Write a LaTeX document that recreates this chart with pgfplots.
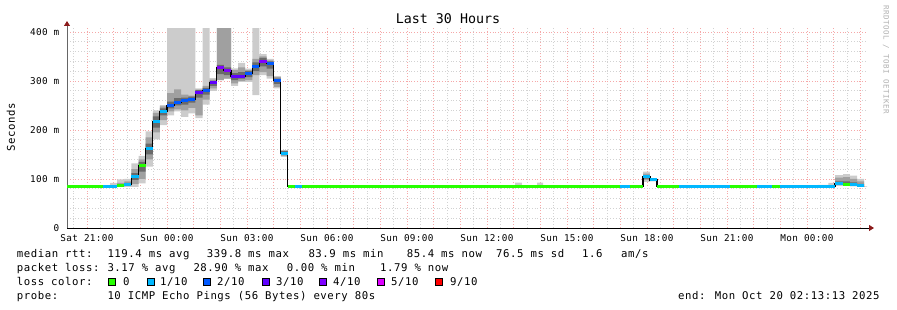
\documentclass[border=0pt]{standalone}
\usepackage{fontspec}
\setmainfont{DejaVu Sans Mono}
\newfontfamily\lgfont{DejaVu Sans Mono}[LetterSpace=5.2]
\newfontfamily\tkfont{DejaVu Sans Mono}[LetterSpace=4]
\newfontfamily\wmfont{DejaVu Sans Mono}[LetterSpace=7]
\usepackage{pgfplots}
\pgfplotsset{compat=1.18}
\usepackage{pgfplotstable}
\usepgfplotslibrary{fillbetween}
\usetikzlibrary{arrows.meta}

\definecolor{c0}{HTML}{26FF00}
\definecolor{c1}{HTML}{00B8FF}
\definecolor{c2}{HTML}{0059FF}
\definecolor{c3}{HTML}{5E00FF}
\definecolor{c4}{HTML}{7E00FF}
\definecolor{c5}{HTML}{DD00FF}
\definecolor{c9}{HTML}{FF0000}
\definecolor{sm1}{HTML}{CCCCCC}
\definecolor{sm2}{HTML}{A0A0A0}
\definecolor{sm3}{HTML}{6A6A6A}
\definecolor{mgrid}{HTML}{F5A8A8}
\definecolor{ngrid}{HTML}{D2D2D2}
\definecolor{arrowred}{HTML}{8B1A1A}
\definecolor{wmgray}{HTML}{B0B0B0}

\newcommand\lgf{\lgfont\fontsize{10.67}{12}\selectfont}
\newcommand\tkf{\tkfont\fontsize{9.33}{10}\selectfont}

% smoke bands: t = step start (hours since Sat 00:00)
\pgfplotstableread{
t l1 h1 l2 h2 l3 h3
20.25 84 84 84 84 84 84
21.8667 84 92 84 84 84 84
22.1333 84 99 85 92 85 88
22.4 84 100 86 95 87 92
22.6667 84 132 90 120 98 112
22.9333 91 147 100 140 115 135
23.2 125 197 140 185 150 172
23.4667 181 240 195 235 205 228
23.7333 210 251 220 248 230 244
24.0 230 408 238 275 244 258
24.2667 238 408 242 283 250 265
24.5333 227 408 240 272 252 266
24.8 234 408 245 270 256 268
25.0667 224 285 230 282 266 282
25.3333 252 408 262 290 272 286
25.6 280 306 285 303 290 300
25.8667 302 408 302 408 314 333
26.1333 305 408 305 408 312 328
26.4 290 326 295 322 302 316
26.6667 298 337 300 328 305 318
26.9333 298 325 302 322 308 320
27.2 271 408 312 345 320 338
27.4667 312 355 318 350 330 347
27.7333 305 345 310 342 325 340
28.0 285 310 288 308 294 305
28.2667 145 159 147 158 149 157
28.5333 84 84 84 84 84 84
37.05 84 92.5 84 84 84 84
37.31 84 84 84 84 84 84
37.875 84 92.5 84 84 84 84
38.1 84 84 84 84 84 84
41.85 94 115 98 111 101 108
42.11 95 101 96 100 97 99
42.375 84 84 84 84 84 84
47.74 84 86 84 84 84 84
48.4 84 88 84 84 84 84
48.8 84 92 84 84 84 84
49.05 86 108 88 103 88 95
49.35 86 110 88 104 89 95
49.61 85 107 87 100 87 93
49.875 84 100 85 95 85 90
50.14 84 84 84 84 84 84
50.25 84 84 84 84 84 84
}\smoke

\pgfplotstableread{
t m
20.25 84.3
22.1333 86
22.4 88
22.6667 105
22.9333 127
23.2 163
23.4667 217
23.7333 237
24.0 250
24.2667 257
24.5333 260
24.8 263
25.0667 276
25.3333 281
25.6 296
25.8667 327
26.1333 321
26.4 310
26.6667 310
26.9333 315
27.2 329
27.4667 340
27.7333 336
28.0 301
28.2667 152
28.5333 84.3
41.85 105
42.11 98
42.375 84.3
49.05 90
49.35 89.5
49.61 88.4
49.875 86.7
50.14 86.7
}\median

\begin{document}
\begin{tikzpicture}[x=1pt,y=1pt]
\begin{axis}[
  at={(67pt,82pt)}, anchor=south west,
  scale only axis, width=800pt, height=200pt,
  xmin=20.25, xmax=50.25, ymin=0, ymax=408.16,
  axis lines=left,
  x axis line style={black, line width=0.9pt, -{Triangle[length=5pt,width=6pt,color=arrowred]}, shorten >=-7pt},
  y axis line style={black!60, line width=0.9pt, -{Triangle[length=5pt,width=6pt,color=arrowred]}, shorten >=-7pt},
  xtick={21,22,...,50},
  xticklabels={Sat 21:00,,,Sun 00:00,,,Sun 03:00,,,Sun 06:00,,,Sun 09:00,,,Sun 12:00,,,Sun 15:00,,,Sun 18:00,,,Sun 21:00,,,Mon 00:00,,},
  minor xtick={20.5,21.5,...,49.5},
  ytick={0,100,200,300,400},
  yticklabels={0,100 m,200 m,300 m,400 m},
  minor ytick={20,40,60,80,120,140,160,180,220,240,260,280,320,340,360,380},
  grid=both,
  major grid style={color=mgrid, dash pattern=on 1pt off 1.8pt, line width=0.75pt},
  minor grid style={color=ngrid, dash pattern=on 1pt off 1.8pt, line width=0.75pt},
  major tick length=0pt, minor tick length=0pt,
  xticklabel style={font=\tkf, anchor=base, inner sep=0pt, yshift=-14pt},
  yticklabel style={font=\tkf, anchor=east, inner sep=0pt, xshift=-7.5pt},
  unbounded coords=jump,
]
\addplot[name path=l1, const plot, draw=none, forget plot] table[x=t,y=l1]{\smoke};
\addplot[name path=h1, const plot, draw=none, forget plot] table[x=t,y=h1]{\smoke};
\addplot[fill=sm1, draw=none, forget plot] fill between[of=l1 and h1];
\addplot[name path=l2, const plot, draw=none, forget plot] table[x=t,y=l2]{\smoke};
\addplot[name path=h2, const plot, draw=none, forget plot] table[x=t,y=h2]{\smoke};
\addplot[fill=sm2, draw=none, forget plot] fill between[of=l2 and h2];
\addplot[name path=l3, const plot, draw=none, forget plot] table[x=t,y=l3]{\smoke};
\addplot[name path=h3, const plot, draw=none, forget plot] table[x=t,y=h3]{\smoke};
\addplot[fill=sm3, draw=none, forget plot] fill between[of=l3 and h3];
% median step line
\addplot[black, line width=1.2pt, const plot, forget plot] table[x=t,y=m]{\median};
% loss-coloured median segments
\addplot[c0, line width=3pt, forget plot] coordinates {
(20.25,84.3)(21.6,84.3)(21.6,nan)
(22.1333,86)(22.4,86)(22.4,nan)
(22.9333,127)(23.2,127)(23.2,nan)
(28.5333,84.3)(28.8,84.3)(28.8,nan)
(29.06,84.3)(41.0,84.3)(41.0,nan)
(41.36,84.3)(41.85,84.3)(41.85,nan)
(42.375,84.3)(43.2,84.3)(43.2,nan)
(45.11,84.3)(46.125,84.3)(46.125,nan)
(46.69,84.3)(46.99,84.3)(46.99,nan)
(49.35,89.5)(49.61,89.5)};
\addplot[c1, line width=3pt, forget plot] coordinates {
(21.6,84.3)(22.1333,84.3)(22.1333,nan)
(22.4,88)(22.6667,88)(22.6667,nan)
(22.6667,105)(22.9333,105)(22.9333,nan)
(23.2,163)(23.4667,163)(23.4667,nan)
(23.4667,217)(23.7333,217)(23.7333,nan)
(23.7333,237)(24.0,237)(24.0,nan)
(28.2667,152)(28.5333,152)(28.5333,nan)
(28.8,84.3)(29.06,84.3)(29.06,nan)
(41.0,84.3)(41.36,84.3)(41.36,nan)
(41.85,105)(42.11,105)(42.11,nan)
(42.11,98)(42.375,98)(42.375,nan)
(43.2,84.3)(45.11,84.3)(45.11,nan)
(46.125,84.3)(46.69,84.3)(46.69,nan)
(46.99,84.3)(49.05,84.3)(49.05,nan)
(49.05,90)(49.35,90)(49.35,nan)
(49.61,88.4)(49.875,88.4)(49.875,nan)
(49.875,86.7)(50.14,86.7)};
\addplot[c2, line width=3pt, forget plot] coordinates {
(24.0,250)(24.2667,250)(24.2667,nan)
(24.2667,257)(24.5333,257)(24.5333,nan)
(24.5333,260)(24.8,260)(24.8,nan)
(24.8,263)(25.0667,263)(25.0667,nan)
(25.3333,281)(25.6,281)(25.6,nan)
(26.9333,315)(27.2,315)(27.2,nan)
(27.2,329)(27.4667,329)(27.4667,nan)
(27.7333,336)(28.0,336)(28.0,nan)
(28.0,301)(28.2667,301)};
\addplot[c3, line width=3pt, forget plot] coordinates {
(25.0667,276)(25.3333,276)(25.3333,nan)
(25.6,296)(25.8667,296)(25.8667,nan)
(26.4,310)(26.6667,310)(26.6667,nan)
(26.6667,310)(26.9333,310)};
\addplot[c4, line width=3pt, forget plot] coordinates {
(25.8667,327)(26.1333,327)(26.1333,nan)
(26.1333,321)(26.4,321)(26.4,nan)
(27.4667,340)(27.7333,340)};
\end{axis}
% titles
\node[anchor=base, inner sep=0pt, font=\fontsize{13.33}{15}\selectfont] at (448,286) {Last 30 Hours};
\node[rotate=90, inner sep=0pt, font=\lgf] at (11,183) {Seconds};
\node[rotate=-90, anchor=west, inner sep=0pt, text=wmgray, font=\wmfont\fontsize{7.5}{8}\selectfont] at (886,305) {RRDTOOL / TOBI OETIKER};
% legend text
\begin{scope}[every node/.style={anchor=base west, inner sep=0pt, font=\lgf}]
\node at (16.7,52.3) {median rtt:};
\node at (107.3,52.3) {119.4 ms avg};
\node at (206.7,52.3) {339.8 ms max};
\node at (308.3,52.3) {83.9 ms min};
\node at (406.7,52.3) {85.4 ms now};
\node at (496,52.3) {76.5 ms sd};
\node at (582,52.3) {1.6};
\node at (621,52.3) {am/s};
\node at (16.7,38.3) {packet loss:};
\node at (107.3,38.3) {3.17 \% avg};
\node at (193.3,38.3) {28.90 \% max};
\node at (286.7,38.3) {0.00 \% min};
\node at (380,38.3) {1.79 \% now};
\node at (16.7,24.3) {loss color:};
\node at (123,24.3) {0};
\node at (160,24.3) {1/10};
\node at (217,24.3) {2/10};
\node at (276,24.3) {3/10};
\node at (333,24.3) {4/10};
\node at (391,24.3) {5/10};
\node at (450,24.3) {9/10};
\node at (16.7,10.5) {probe:};
\node at (107.3,10.5) {10 ICMP Echo Pings (56 Bytes) every 80s};
\node at (678,10.5) {end: Mon Oct 20 02:13:13 2025};
\end{scope}
\begin{scope}[line width=0.6pt, draw=black]
\filldraw[fill=c0] (108,25) rectangle ++(7,7);
\filldraw[fill=c1] (147,25) rectangle ++(7,7);
\filldraw[fill=c2] (203,25) rectangle ++(7,7);
\filldraw[fill=c3] (262,25) rectangle ++(7,7);
\filldraw[fill=c4] (319,25) rectangle ++(7,7);
\filldraw[fill=c5] (377,25) rectangle ++(7,7);
\filldraw[fill=c9] (435,25) rectangle ++(7,7);
\end{scope}
\path (0,0) rectangle (897,310);
\end{tikzpicture}
\end{document}
